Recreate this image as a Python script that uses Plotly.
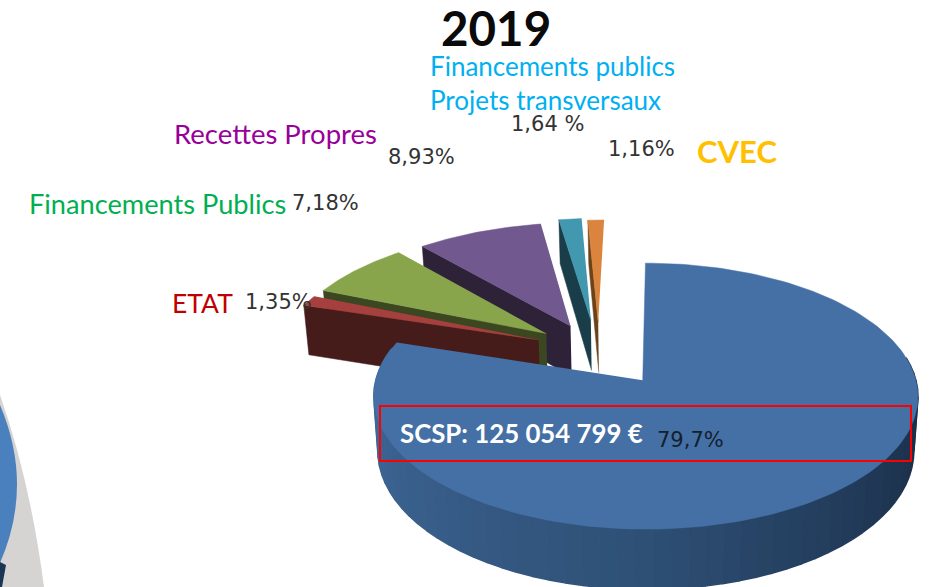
import numpy as np
import plotly.graph_objects as go

# -------------------
# Data
# -------------------
labels = ["SCSP", "ETAT", "Financements Publics", "Recettes Propres", "Projets transversaux", "CVEC"]
shares = [79.7, 1.35, 7.18, 8.93, 1.64, 1.16]
share_text = ["79,7%", "1,35%", "7,18%", "8,93%", "1,64 %", "1,16%"]
title_text = "2019"
scsp_text = "SCSP: 125 054 799 €"

# -------------------
# Pie geometry (explode per slice, projection to page pixels)
# -------------------
pulls = [0.30, 0.22, 0.22, 0.21, 0.24, 0.22]
nudge_x = [3, -4, -4, -3, 1, 3]
top_colors = ["#4570A6", "#A5403E", "#89A54B", "#71588F", "#4198AF", "#DB843D"]
wall_colors = ["#2F5177", "#451C1A", "#3A4720", "#2E2239", "#1A3D4A", "#6B4219"]
WALL_LEFT = np.array([66, 108, 158])
WALL_MID = np.array([47, 81, 119])
WALL_RIGHT = np.array([26, 45, 71])

CX, CY = 596, 349
VX = 643  # perspective converges on this column
RX, RY = 262, 125.3
PERSP = 0.1277
DEPTH = 52

edges = np.concatenate([[0], np.cumsum(shares)]) / sum(shares) * 2 * np.pi


def project(u, v, nudge=0, drop=False):
    s = 1 - PERSP * v
    x = VX + (CX + nudge + RX * u - VX) * s
    y = CY - RY * v * s
    if drop:
        x = VX + (x - VX) * 0.985
        y = y + DEPTH * s
    return x, y


def slice_offset(i):
    mid = (edges[i] + edges[i + 1]) / 2
    return pulls[i] * np.sin(mid), pulls[i] * np.cos(mid)


def arc_points(i, a, b, n=60, drop=False):
    t = np.linspace(a, b, n)
    u0, v0 = slice_offset(i)
    return project(u0 + np.sin(t), v0 + np.cos(t), nudge_x[i], drop)


fig = go.Figure()


def add_poly(x, y, color, width=0.5):
    fig.add_trace(go.Scatter(
        x=list(x), y=list(y), mode="lines", fill="toself", fillcolor=color,
        line=dict(color=color, width=width), hoverinfo="skip", showlegend=False,
    ))


# back to front, the big slice goes last
for i in [5, 4, 3, 2, 1]:
    u0, v0 = slice_offset(i)
    ax, ay = project(u0, v0, nudge_x[i])
    bx, by = project(u0, v0, nudge_x[i], drop=True)
    ex, ey = arc_points(i, edges[i], edges[i], n=1)
    fx, fy = arc_points(i, edges[i], edges[i], n=1, drop=True)
    add_poly([ax, ex[0], fx[0], bx], [ay, ey[0], fy[0], by], wall_colors[i])
    arc_x, arc_y = arc_points(i, edges[i], edges[i + 1])
    add_poly(np.r_[ax, arc_x], np.r_[ay, arc_y], top_colors[i])

# front wall of the big slice, in strips for the shading
wall_edges = np.linspace(np.radians(80), np.radians(284), 61)
for k in range(len(wall_edges) - 1):
    f = k / (len(wall_edges) - 2)
    # the arc runs clockwise: right side first
    if f < 0.5:
        c = WALL_RIGHT + (WALL_MID - WALL_RIGHT) * (f / 0.5) ** 1.5
    else:
        c = WALL_MID + (WALL_LEFT - WALL_MID) * ((f - 0.5) / 0.5)
    color = "rgb(%d,%d,%d)" % tuple(c)
    tx, ty = arc_points(0, wall_edges[k], wall_edges[k + 1], n=4)
    dx, dy = arc_points(0, wall_edges[k], wall_edges[k + 1], n=4, drop=True)
    add_poly(np.r_[tx, dx[::-1]], np.r_[ty, dy[::-1]], color, width=1.5)

# apex left un-nudged: the arc's centre sits a little right of the point
u0, v0 = slice_offset(0)
ax, ay = project(u0, v0)
arc_x, arc_y = arc_points(0, edges[0], edges[1], n=200)
add_poly(np.r_[ax, arc_x], np.r_[ay, arc_y], top_colors[0])

# -------------------
# Texts
# -------------------
LABEL_FONT = "Lato"
VALUE_FONT = "DejaVu Sans"


def add_text(x, y, text, size, color, family=LABEL_FONT, bold=False):
    fig.add_annotation(
        x=x - 2.5, y=y - 1, text=f"<b>{text}</b>" if bold else text,
        xanchor="left", yanchor="middle", showarrow=False,
        font=dict(family=family, size=size, color=color),
    )


add_text(441, 28, title_text, 47.5, "#0A0A0A", bold=True)
add_text(430, 67, "Financements publics", 26, "#00B0F0")
add_text(430, 101, labels[4], 26, "#00B0F0")
add_text(174, 134, labels[3], 27.5, "#990099")
add_text(29, 204, labels[2], 27.2, "#00B050")
add_text(172, 304, labels[1], 26.5, "#C00000")
add_text(697, 152, labels[5], 31, "#FFC000", bold=True)
add_text(400, 434, scsp_text, 25.8, "#FFFFFF", bold=True)

add_text(657, 441, share_text[0], 21, "#14202E", family=VALUE_FONT)
add_text(245, 303, share_text[1], 21, "#333333", family=VALUE_FONT)
add_text(292, 204, share_text[2], 21, "#333333", family=VALUE_FONT)
add_text(388, 158, share_text[3], 21, "#333333", family=VALUE_FONT)
add_text(511, 125, share_text[4], 21, "#333333", family=VALUE_FONT)
add_text(608, 150, share_text[5], 21, "#333333", family=VALUE_FONT)

# -------------------
# Box round the SCSP label and the clipped object at the lower left
# -------------------
shapes = [
    dict(type="path", path="M 0,395 Q 30,480 44,587 L 0,587 Z",
         fillcolor="#D6D4D2", line=dict(width=0), layer="below"),
    dict(type="path", path="M 0,405 Q 34,485 0,563 Z",
         fillcolor="#4A80BD", line=dict(width=0), layer="below"),
    dict(type="path", path="M 0,562 L 6,565 L 2,587 L 0,587 Z",
         fillcolor="#1C3554", line=dict(width=0), layer="below"),
    dict(type="rect", x0=380, y0=406, x1=911, y1=461,
         line=dict(color="#FF0000", width=2), fillcolor="rgba(0,0,0,0)"),
]

fig.update_layout(
    width=932,
    height=587,
    margin=dict(l=0, r=0, t=0, b=0),
    paper_bgcolor="#FFFFFF",
    plot_bgcolor="#FFFFFF",
    showlegend=False,
    shapes=shapes,
    xaxis=dict(range=[0, 932], visible=False),
    yaxis=dict(range=[587, 0], visible=False),
)

fig.write_html("out.html", post_script="document.body.style.margin='0';", config=dict(displayModeBar=False))
